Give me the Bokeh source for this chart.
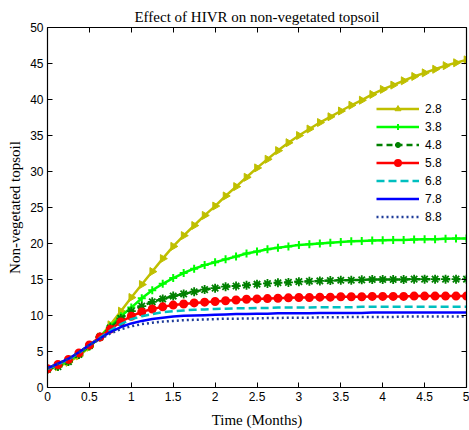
import math

from bokeh.embed import file_html
from bokeh.models import Legend, LegendItem, LinearAxis, Range1d, FixedTicker
from bokeh.plotting import figure
from bokeh.resources import INLINE

# Time grid (months)
time_months = [
    0.0, 0.125, 0.25, 0.375, 0.5, 0.625, 0.75, 0.875, 1.0, 1.125,
    1.25, 1.375, 1.5, 1.625, 1.75, 1.875, 2.0, 2.125, 2.25, 2.375,
    2.5, 2.625, 2.75, 2.875, 3.0, 3.125, 3.25, 3.375, 3.5, 3.625,
    3.75, 3.875, 4.0, 4.125, 4.25, 4.375, 4.5, 4.625, 4.75, 4.875, 5.0,
]

# Non-vegetated topsoil for each HIVR value
hivr_2_8 = [
    2.5, 2.9, 3.5, 4.4, 5.6, 7.0, 8.7, 10.6, 12.5, 14.3,
    16.1, 17.9, 19.6, 21.1, 22.5, 23.9, 25.2, 26.6, 27.9, 29.2,
    30.5, 31.7, 32.9, 34.0, 35.0, 35.9, 36.8, 37.6, 38.4, 39.2,
    39.9, 40.7, 41.4, 42.0, 42.6, 43.2, 43.7, 44.2, 44.7, 45.1, 45.5,
]
hivr_3_8 = [
    2.6, 3.0, 3.7, 4.6, 5.7, 7.0, 8.5, 9.9, 11.1, 12.4,
    13.5, 14.4, 15.2, 15.9, 16.5, 17.0, 17.4, 17.8, 18.2, 18.6,
    18.9, 19.2, 19.4, 19.6, 19.8, 19.9, 20.0, 20.1, 20.2, 20.3,
    20.35, 20.4, 20.45, 20.5, 20.5, 20.55, 20.6, 20.6, 20.65, 20.7, 20.7,
]
hivr_4_8 = [
    2.5, 2.9, 3.6, 4.6, 5.8, 7.0, 8.3, 9.6, 10.6, 11.3,
    11.9, 12.3, 12.7, 13.0, 13.3, 13.6, 13.8, 14.0, 14.1, 14.2,
    14.35, 14.45, 14.55, 14.6, 14.7, 14.75, 14.8, 14.85, 14.9, 14.9,
    14.95, 15.0, 15.0, 15.0, 15.0, 15.05, 15.05, 15.05, 15.05, 15.05, 15.05,
]
hivr_5_8 = [
    2.6, 3.2, 3.9, 4.8, 5.9, 7.0, 8.1, 9.1, 9.9, 10.5,
    10.9, 11.2, 11.45, 11.6, 11.75, 11.85, 11.95, 12.05, 12.15, 12.25,
    12.3, 12.35, 12.4, 12.45, 12.5, 12.5, 12.55, 12.55, 12.6, 12.6,
    12.6, 12.65, 12.65, 12.65, 12.65, 12.7, 12.7, 12.7, 12.7, 12.7, 12.7,
]
hivr_6_8 = [
    2.6, 3.2, 3.9, 4.8, 5.9, 6.9, 7.9, 8.8, 9.5, 9.9,
    10.2, 10.45, 10.6, 10.7, 10.8, 10.85, 10.9, 10.95, 11.0, 11.0,
    11.05, 11.05, 11.1, 11.1, 11.1, 11.1, 11.15, 11.15, 11.15, 11.15,
    11.2, 11.2, 11.2, 11.2, 11.2, 11.2, 11.2, 11.2, 11.2, 11.2, 11.2,
]
hivr_7_8 = [
    2.7, 3.3, 4.0, 4.9, 5.9, 6.8, 7.7, 8.4, 8.9, 9.25,
    9.5, 9.7, 9.85, 9.95, 10.0, 10.05, 10.1, 10.15, 10.2, 10.2,
    10.25, 10.25, 10.3, 10.3, 10.3, 10.3, 10.35, 10.35, 10.35, 10.35,
    10.35, 10.4, 10.4, 10.4, 10.4, 10.4, 10.4, 10.4, 10.4, 10.4, 10.4,
]
hivr_8_8 = [
    2.7, 3.3, 4.0, 4.9, 5.9, 6.7, 7.5, 8.1, 8.5, 8.8,
    9.0, 9.15, 9.25, 9.35, 9.4, 9.45, 9.5, 9.55, 9.55, 9.6,
    9.6, 9.65, 9.65, 9.7, 9.7, 9.7, 9.75, 9.75, 9.75, 9.8,
    9.8, 9.8, 9.8, 9.8, 9.85, 9.85, 9.85, 9.85, 9.85, 9.85, 9.85,
]

series_labels = ["2.8", "3.8", "4.8", "5.8", "6.8", "7.8", "8.8"]
series_values = [hivr_2_8, hivr_3_8, hivr_4_8, hivr_5_8, hivr_6_8, hivr_7_8, hivr_8_8]

x_ticks = [0, 0.5, 1, 1.5, 2, 2.5, 3, 3.5, 4, 4.5, 5]
y_ticks = [0, 5, 10, 15, 20, 25, 30, 35, 40, 45, 50]

# line colour, dash, marker, marker size, marker fill
styles = [
    ("#bfbf00", "solid", "triangle", 8, True),
    ("#00ff00", "solid", "cross", 8, False),
    ("#008000", "6 4", "asterisk", 9, False),
    ("#ff0000", "solid", "circle", 7, True),
    ("#00bfbf", "8 4", None, 0, False),
    ("#0000ff", "solid", None, 0, False),
    ("#1f3c99", "2 3", None, 0, False),
]

SERIF = "Liberation Serif"
SANS = "Liberation Sans"

p = figure(
    width=469, height=430,
    x_range=Range1d(0, 5), y_range=Range1d(0, 50),
    output_backend="svg", toolbar_location=None,
    min_border_left=47, min_border_right=3,
    min_border_top=27, min_border_bottom=39,
    x_axis_label="Time (Months)", y_axis_label="Non-vegetated topsoil",
    title="Effect of HIVR on non-vegetated topsoil",
)
p.background_fill_color = "white"
p.border_fill_color = "white"
p.outline_line_color = None
p.grid.visible = False

p.title.align = "center"
p.title.text_font = SERIF
p.title.text_font_size = "15px"
p.title.text_font_style = "normal"
p.title.text_color = "black"
p.title.standoff = 6


def style_axis(ax, labels=True):
    ax.axis_line_color = "black"
    ax.axis_line_width = 1.2
    ax.major_tick_in = 5
    ax.major_tick_out = 0
    ax.major_tick_line_color = "black"
    ax.minor_tick_line_color = None
    if labels:
        ax.major_label_text_font = SANS
        ax.major_label_text_font_size = "12px"
        ax.major_label_text_color = "black"
        ax.major_label_standoff = 4
        ax.axis_label_text_font = SERIF
        ax.axis_label_text_font_size = "15px"
        ax.axis_label_text_font_style = "normal"
        ax.axis_label_text_color = "black"
    else:
        # tick marks only on the box's top and right sides
        ax.major_label_text_font_size = "0px"
        ax.major_label_text_color = None
        ax.major_label_standoff = 0


for ax in p.xaxis:
    ax.ticker = FixedTicker(ticks=x_ticks)
    style_axis(ax)
    ax.axis_label_standoff = 8
for ax in p.yaxis:
    ax.ticker = FixedTicker(ticks=y_ticks)
    style_axis(ax)
    ax.axis_label_standoff = 4

top_axis = LinearAxis(ticker=FixedTicker(ticks=x_ticks))
style_axis(top_axis, labels=False)
p.add_layout(top_axis, "above")
right_axis = LinearAxis(ticker=FixedTicker(ticks=y_ticks))
style_axis(right_axis, labels=False)
p.add_layout(right_axis, "right")

items = []
for label, values, (color, dash, marker, msize, filled) in zip(series_labels, series_values, styles):
    rends = [p.line(time_months, values, line_color=color, line_width=2.5, line_dash=dash)]
    if marker is not None:
        kw = dict(marker=marker, size=msize, line_color=color, line_width=2)
        kw["fill_color"] = color if filled else None
        if marker == "triangle":
            # rotate clockwise so the triangles point to the right
            kw["angle"] = -math.pi / 2
            kw["line_width"] = 1
        if marker == "asterisk":
            kw["line_width"] = 1.8
        rends.append(p.scatter(time_months, values, **kw))
    items.append(LegendItem(label=label, renderers=rends))

legend = Legend(
    items=items, location=(329, 163),
    glyph_width=43, glyph_height=15, label_height=15, spacing=3,
    label_standoff=6, padding=0, margin=0,
    border_line_color=None, background_fill_alpha=0,
    label_text_font=SANS, label_text_font_size="12px", label_text_color="black",
)
p.add_layout(legend, "center")

open("out.html", "w").write(file_html(p, INLINE))
